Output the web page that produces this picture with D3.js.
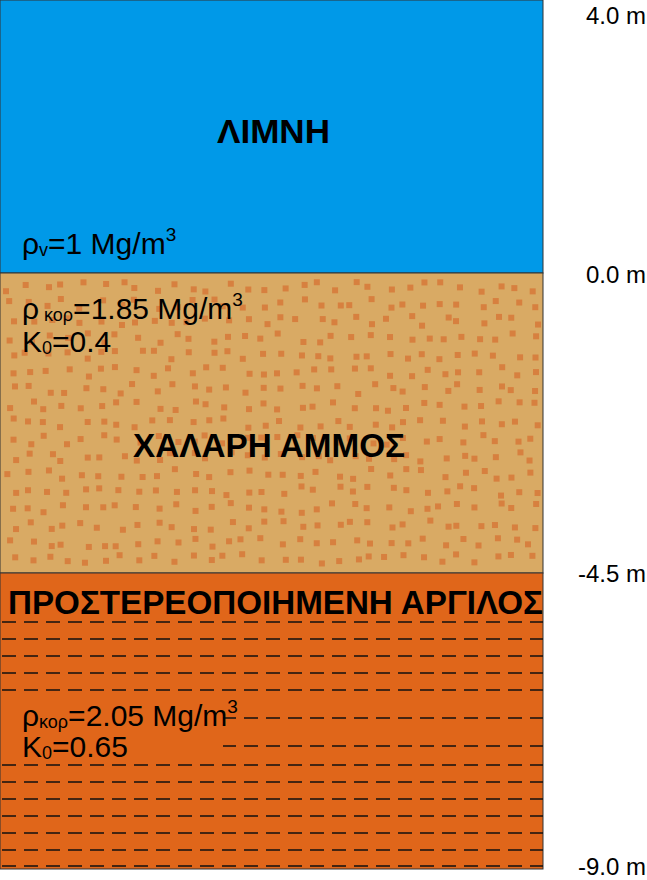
<!DOCTYPE html>
<html><head><meta charset="utf-8">
<script src="https://cdn.jsdelivr.net/npm/d3@7"></script>
<style>body{margin:0;background:#fff}svg{display:block}text{font-family:"Liberation Sans",Arial,sans-serif}</style>
</head><body><div id="chart"></div>
<script>
// layer boundaries (m) and names
var depths = [4.0, 0.0, -4.5, -9.0];
var depthLabels = ["4.0 m", "0.0 m", "-4.5 m", "-9.0 m"];
var layerNames = ["ΛΙΜΝΗ", "ΧΑΛΑΡΗ ΑΜΜΟΣ", "ΠΡΟΣΤΕΡΕΟΠΟΙΗΜΕΝΗ ΑΡΓΙΛΟΣ"];
var layerColors = ["#0099e8", "#d9aa64", "#e0661a"];
var clayLines = [622, 639, 656, 673, 690, 718, 746, 765, 782, 799, 816, 833, 850, 866];

var W = 647, H = 880, right = 543;
var y = d3.scaleLinear().domain([4, 0, -4.5, -9]).range([0, 273, 573, 869]);

var svg = d3.select('#chart').append('svg').attr('width', W).attr('height', H);

// layers
svg.selectAll('rect.layer').data(layerNames).enter().append('rect')
	.attr('x', 0).attr('width', right)
	.attr('y', function(d, i) { return y(depths[i]); })
	.attr('height', function(d, i) { return y(depths[i + 1]) - y(depths[i]); })
	.attr('fill', function(d, i) { return layerColors[i]; })
	.attr('stroke', '#333').attr('stroke-width', 1);

// sand texture: scattered squares (deterministic)
var seed = 7;
function rnd() { seed = (seed * 16807) % 2147483647; return seed / 2147483647; }
var dots = [];
for (var gx = 3; gx < right - 14; gx += 18) {
	for (var gy = y(0) + 6; gy < y(-4.5) - 10; gy += 17) {
		dots.push([gx + rnd() * 11, gy + rnd() * 10]);
	}
}
svg.append('g').selectAll('rect').data(dots).enter().append('rect')
	.attr('x', function(d) { return d[0]; }).attr('y', function(d) { return d[1]; })
	.attr('width', 6).attr('height', 6).attr('fill', '#d7803f');

// clay dashes
svg.append('g').selectAll('line').data(clayLines).enter().append('line')
	.attr('x1', 2).attr('x2', right)
	.attr('y1', function(d) { return d; }).attr('y2', function(d) { return d; })
	.attr('stroke', '#111').attr('stroke-width', 1.4).attr('stroke-dasharray', '14,8');

// text backgrounds so dashes stop at the text
svg.append('rect').attr('x', 1).attr('y', 697).attr('width', 222).attr('height', 63).attr('fill', layerColors[2]);
svg.append('rect').attr('x', 1).attr('y', 575).attr('width', right - 2).attr('height', 40).attr('fill', layerColors[2]);

// layer titles
var titleY = [143, 457, 614];
var titleX = [217, 133, 8];
var titleLen = [113, 272, 535];
svg.selectAll('text.title').data(layerNames).enter().append('text')
	.attr('x', function(d, i) { return titleX[i]; })
	.attr('y', function(d, i) { return titleY[i]; })
	.attr('font-weight', 'bold')
	.attr('font-size', 34)
	.attr('textLength', function(d, i) { return titleLen[i]; })
	.attr('lengthAdjust', 'spacingAndGlyphs')
	.text(function(d) { return d; });

// properties
function prop(x, yy, main, sub, rest, sup) {
	var t = svg.append('text').attr('x', x).attr('y', yy).attr('font-size', 30);
	t.append('tspan').text(main);
	t.append('tspan').attr('font-size', 18).attr('dy', 2).text(sub);
	t.append('tspan').attr('dy', -2).text(rest);
	if (sup) t.append('tspan').attr('font-size', 19).attr('dy', -13).text(sup);
}
prop(22, 254, "ρ", "v", "=1 Mg/m", "3");
prop(22, 319, "ρ", " κορ", "=1.85 Mg/m", "3");
prop(22, 352, "K", "0", "=0.4");
prop(22, 726, "ρ", "κορ", "=2.05 Mg/m", "3");
prop(22, 757, "K", "0", "=0.65");

// depth labels
var labelY = [24, 283, 582, 875];
svg.selectAll('text.depth').data(depthLabels).enter().append('text')
	.attr('x', 646).attr('font-size', 24).attr('text-anchor', 'end')
	.attr('y', function(d, i) { return labelY[i]; })
	.text(function(d) { return d; });
</script></body></html>
